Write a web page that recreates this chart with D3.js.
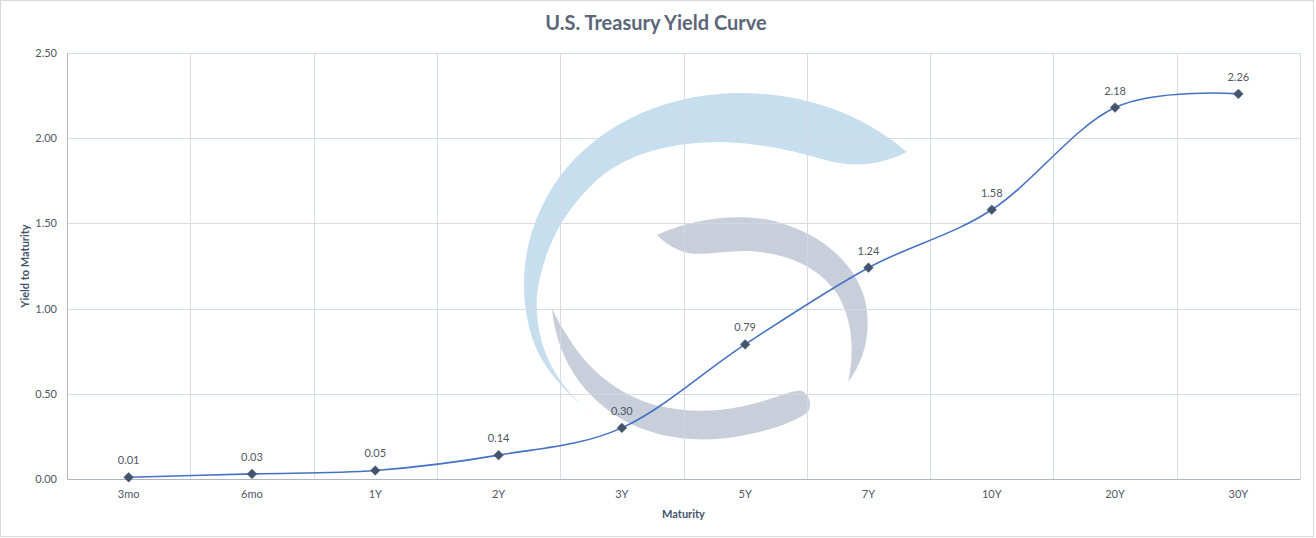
<!DOCTYPE html>
<html>
<head>
<meta charset="utf-8">
<script src="https://cdn.jsdelivr.net/npm/d3@7"></script>
<style>
  body { margin: 0; background: #fff; }
  svg text { font-family: Lato, "Open Sans", sans-serif; }
</style>
</head>
<body>
<div id="chart"></div>
<script>
// chart data
const maturities = ["3mo", "6mo", "1Y", "2Y", "3Y", "5Y", "7Y", "10Y", "20Y", "30Y"];
const yields = [0.01, 0.03, 0.05, 0.14, 0.30, 0.79, 1.24, 1.58, 2.18, 2.26];
const yTicks = [0, 0.5, 1.0, 1.5, 2.0, 2.5];

const W = 1316, H = 538;
const margin = { top: 53, right: 16, bottom: 59, left: 67 };
const width = W - margin.left - margin.right,
      height = H - margin.top - margin.bottom;

const svg = d3.select("#chart").append("svg")
    .attr("width", W)
    .attr("height", H);

// outer chart border
svg.append("rect")
    .attr("x", 0.5).attr("y", 0.5)
    .attr("width", W - 3).attr("height", H - 2)
    .attr("fill", "#fff")
    .attr("stroke", "#d9d9d9");

// watermark logo, sits under the grid and the series
const logo = svg.append("g");
logo.append("path")
    .attr("fill", "#c6deee")
    .attr("d", "M597,417 C575,400 545,375 533,340 C518,295 520,240 552,188 C590,128 660,95 735,93 " +
               "C800,92 860,112 907,152 C880,165 855,168 825,160 C790,150 760,143 720,142 " +
               "C670,142 620,155 592,185 C560,215 542,255 537,295 C534,340 552,385 597,417 Z");
logo.append("path")
    .attr("fill", "#c8cfdb")
    .attr("d", "M657,235 C690,220 730,213 770,220 C820,232 855,262 865,300 C872,330 865,360 848,382 " +
               "C855,350 852,320 838,295 C820,268 790,254 750,251 C725,250 705,256 688,253 C675,250 665,243 657,235 Z");
logo.append("path")
    .attr("fill", "#c8cfdb")
    .attr("d", "M552,308 C555,345 572,385 612,413 C645,436 690,444 735,437 C770,431 795,422 808,412 " +
               "C812,405 810,395 802,391 C795,389 780,396 760,402 C725,412 690,414 655,405 " +
               "C615,394 585,365 570,340 C562,328 556,318 552,308 Z");

const x = d3.scaleBand().domain(maturities).range([0, width]);
const y = d3.scaleLinear().domain([0, 2.5]).range([height, 0]);

const g = svg.append("g")
    .attr("transform", `translate(${margin.left},${margin.top})`);

// gridlines
g.append("g")
    .selectAll("line")
    .data(yTicks.slice(1))
    .enter().append("line")
    .attr("x1", 0).attr("x2", width)
    .attr("y1", d => Math.round(y(d)) + 0.5).attr("y2", d => Math.round(y(d)) + 0.5)
    .attr("stroke", "#d3d8e1")
    .attr("stroke-opacity", 0.9);

g.append("g")
    .selectAll("line")
    .data(maturities)
    .enter().append("line")
    .attr("x1", d => Math.round(x(d) + x.bandwidth()) + 0.5)
    .attr("x2", d => Math.round(x(d) + x.bandwidth()) + 0.5)
    .attr("y1", 0).attr("y2", height)
    .attr("stroke", "#d3d8e1")
    .attr("stroke-opacity", 0.9);

// axes
const yAxis = g.append("g")
    .call(d3.axisLeft(y).tickValues(yTicks).tickSize(0).tickPadding(10).tickFormat(d3.format(".2f")));
yAxis.select(".domain").attr("stroke", "#aeb6c2");
yAxis.selectAll("text").attr("font-size", 11).attr("fill", "#4f5663");

const xAxis = g.append("g")
    .attr("transform", `translate(0,${height})`)
    .call(d3.axisBottom(x).tickSize(0).tickPadding(11));
xAxis.select(".domain").attr("stroke", "#aeb6c2");
xAxis.selectAll("text").attr("font-size", 11).attr("fill", "#4f5663");

// smoothed line
const line = d3.line()
    .x((d, i) => x(maturities[i]) + x.bandwidth() / 2)
    .y(d => y(d))
    .curve(d3.curveCardinal.tension(0));

g.append("path")
    .datum(yields)
    .attr("fill", "none")
    .attr("stroke", "#4472c4")
    .attr("stroke-width", 1.6)
    .attr("d", line);

// diamond markers
g.selectAll(".pt")
    .data(yields)
    .enter().append("path")
    .attr("class", "pt")
    .attr("transform", (d, i) => `translate(${x(maturities[i]) + x.bandwidth() / 2},${y(d)})`)
    .attr("d", d3.symbol().type(d3.symbolDiamond2).size(60))
    .attr("fill", "#44546a")
    .attr("stroke", "#4a5a74")
    .attr("stroke-width", 0.5);

// data labels
g.selectAll(".lbl")
    .data(yields)
    .enter().append("text")
    .attr("class", "lbl")
    .attr("x", (d, i) => x(maturities[i]) + x.bandwidth() / 2)
    .attr("y", d => y(d) - 13)
    .attr("text-anchor", "middle")
    .attr("font-size", 11)
    .attr("fill", "#4f5663")
    .text(d => d.toFixed(2));

// titles
svg.append("text")
    .attr("x", 656).attr("y", 30)
    .attr("text-anchor", "middle")
    .attr("font-size", 20)
    .attr("font-weight", "bold")
    .attr("fill", "#5b6679")
    .text("U.S. Treasury Yield Curve");

svg.append("text")
    .attr("x", margin.left + width / 2).attr("y", 518)
    .attr("text-anchor", "middle")
    .attr("font-size", 11)
    .attr("font-weight", "bold")
    .attr("fill", "#44546a")
    .text("Maturity");

svg.append("text")
    .attr("transform", `translate(29,${margin.top + height / 2}) rotate(-90)`)
    .attr("text-anchor", "middle")
    .attr("font-size", 11)
    .attr("font-weight", "bold")
    .attr("fill", "#44546a")
    .text("Yield to Maturity");
</script>
</body>
</html>
